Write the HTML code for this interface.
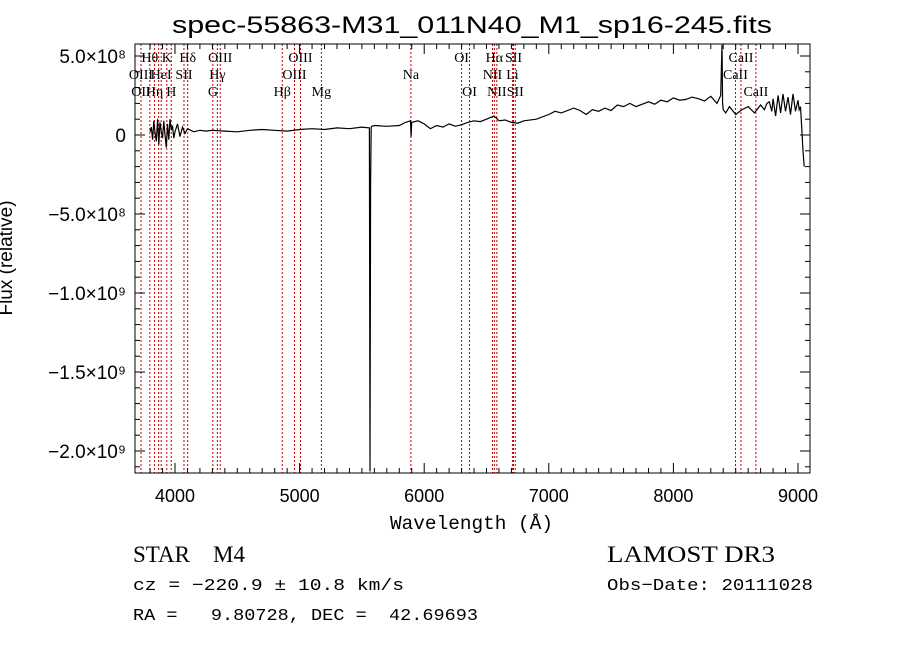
<!DOCTYPE html>
<html><head><meta charset="utf-8"><style>
body{margin:0;background:#fff;width:900px;height:649px;overflow:hidden}
svg text{font-family:"Liberation Sans",sans-serif;fill:#000}
.ser{font-family:"Liberation Serif",serif}
.mono{font-family:"Liberation Mono",monospace}
</style></head><body>
<svg id="chart" width="900" height="649" xmlns="http://www.w3.org/2000/svg">
<text x="172" y="33" font-size="24" textLength="600" lengthAdjust="spacingAndGlyphs">spec-55863-M31_011N40_M1_sp16-245.fits</text>
<g id="plot"></g>
<text class="mono" x="390" y="529" font-size="19" textLength="163" lengthAdjust="spacingAndGlyphs">Wavelength (Å)</text>
<text x="0" y="0" font-size="19" text-anchor="middle" transform="translate(12,258) rotate(-90)">Flux (relative)</text>
<text class="ser" x="133" y="562" font-size="23">STAR</text>
<text class="ser" x="213" y="562" font-size="23">M4</text>
<text class="ser" x="607" y="562" font-size="23" textLength="168" lengthAdjust="spacingAndGlyphs">LAMOST DR3</text>
<text class="mono" x="133" y="590" font-size="17" textLength="271" lengthAdjust="spacingAndGlyphs">cz = −220.9 ± 10.8 km/s</text>
<text class="mono" x="607" y="590" font-size="17" textLength="206" lengthAdjust="spacingAndGlyphs">Obs−Date: 20111028</text>
<text class="mono" x="133" y="620" font-size="17" xml:space="preserve" textLength="345" lengthAdjust="spacingAndGlyphs">RA =   9.80728, DEC =  42.69693</text>
</svg>
<script>
const wave=[3800,3810,3820,3830,3840,3850,3860,3870,3880,3890,3900,3910,3920,3930,3940,3950,3960,3970,3980,3990,4000,4020,4040,4060,4080,4100,4150,4200,4250,4300,4400,4500,4600,4700,4800,4900,5000,5100,5200,5300,5400,5500,5560,5565,5570,5575,5580,5600,5700,5800,5850,5890,5895,5900,5950,6000,6050,6100,6150,6200,6250,6300,6350,6400,6450,6500,6560,6600,6650,6700,6750,6800,6900,7000,7050,7100,7200,7250,7300,7350,7400,7450,7500,7550,7600,7650,7700,7750,7800,7850,7900,7950,8000,8050,8100,8150,8200,8250,8300,8350,8380,8390,8395,8400,8420,8450,8500,8550,8600,8650,8700,8730,8750,8770,8790,8800,8820,8840,8860,8880,8900,8920,8940,8960,8980,9000,9010,9020,9030,9040,9050];
const flux=[0.2,0.5,-0.3,0.9,0.1,-0.4,1.0,-0.6,0.8,0.2,-0.2,0.9,0.0,-0.8,0.7,-0.3,1.0,0.3,0.6,-0.2,0.2,0.7,-0.1,0.5,0.1,0.4,0.2,0.3,0.25,0.3,0.25,0.2,0.3,0.35,0.3,0.25,0.35,0.4,0.35,0.45,0.4,0.5,0.45,-21.3,-3,0.5,0.55,0.6,0.55,0.6,0.8,0.9,-0.1,0.8,0.9,0.7,0.4,0.6,0.5,0.7,0.55,0.65,0.8,0.9,0.85,1.0,1.2,0.9,0.95,0.8,0.75,0.9,1.0,1.3,1.5,1.4,1.7,1.55,1.3,1.6,1.5,1.7,1.55,1.9,1.8,2.0,1.8,1.95,2.1,1.95,2.2,2.1,2.35,2.2,2.25,2.4,2.3,2.15,2.45,2.0,2.5,5.7,2.0,1.6,1.4,1.8,1.3,1.6,1.8,1.4,1.9,1.6,2.0,2.1,1.5,2.3,1.2,2.5,1.4,2.6,1.5,2.4,1.3,2.6,1.5,2.2,1.6,1.8,0.5,-1.0,-2.0,-1.5];
const lineWave=[3727,3798,3835,3869,3889,3934,3970,4072,4102,4304,4340,4363,4861,4959,5007,5175,5893,6300,6364,6548,6563,6583,6708,6717,6731,8498,8542,8662];
const labels=[["OII",3727,2],["OIII",3727,1],["Hθ",3798,0],["Hη",3835,2],["HeI",3889,1],["K",3934,0],["H",3970,2],["SII",4072,1],["Hδ",4102,0],["G",4304,2],["Hγ",4340,1],["OIII",4363,0],["Hβ",4861,2],["OIII",4959,1],["OIII",5007,0],["Mg",5175,2],["Na",5893,1],["OI",6300,0],["OI",6364,2],["NII",6548,1],["Hα",6563,0],["NII",6583,2],["Li",6708,1],["SII",6717,0],["SII",6731,2],["CaII",8498,1],["CaII",8542,0],["CaII",8662,2]];
const xTicks=[4000,5000,6000,7000,8000,9000];
const yTicks=[5,0,-5,-10,-15,-20];
const yTickLabels=["5.0×10⁸","0","−5.0×10⁸","−1.0×10⁹","−1.5×10⁹","−2.0×10⁹"];

const L=135,R=810,T=44,B=473;
function X(w){return 175+(w-4000)*0.1246;}
function Y(f){return 135-f*15.8;}
const NS="http://www.w3.org/2000/svg";
const g=document.getElementById('plot');
function mk(t,a,p){const e=document.createElementNS(NS,t);for(const k in a)e.setAttribute(k,a[k]);(p||g).appendChild(e);return e;}
lineWave.forEach(w=>{
 const l=mk('line',{x1:X(w),x2:X(w),y1:T,y2:B,stroke:'#c00000','stroke-width':1,'stroke-dasharray':'2,2'});
 
 
});
labels.forEach(d=>{
 const t=mk('text',{x:X(d[1]),y:62+d[2]*17,'font-size':14,'text-anchor':'middle',class:'ser'});
 t.textContent=d[0];
 
 
});
let pts=wave.map((w,i)=>X(w).toFixed(1)+','+Math.min(B,Y(flux[i])).toFixed(1)).join(' ');
const sp=mk('polyline',{points:pts,fill:'none',stroke:'#000','stroke-width':1.2});


const fr=mk('rect',{x:L,y:T,width:R-L,height:B-T,fill:'none',stroke:'#000','stroke-width':1});


for(let w=3800;w<=9000;w+=100){
 const big=w%1000===0,len=big?10:5;
 mk('line',{x1:X(w),x2:X(w),y1:B,y2:B-len,stroke:'#000'});
 mk('line',{x1:X(w),x2:X(w),y1:T,y2:T+len,stroke:'#000'});
}
xTicks.forEach(w=>{
 const t=mk('text',{x:X(w),y:502,'font-size':18,'text-anchor':'middle'});
 t.textContent=w;
 
 
});
for(let f=-21;f<=5;f+=1){
 const big=f%5===0,len=big?10:5;
 mk('line',{x1:L,x2:L+len,y1:Y(f),y2:Y(f),stroke:'#000'});
 mk('line',{x1:R,x2:R-len,y1:Y(f),y2:Y(f),stroke:'#000'});
}
yTicks.forEach((f,i)=>{
 const t=mk('text',{x:126,y:Y(f)+7,'font-size':19,'text-anchor':'end'});
 t.textContent=yTickLabels[i];
 
 
});
</script>
</body></html>
